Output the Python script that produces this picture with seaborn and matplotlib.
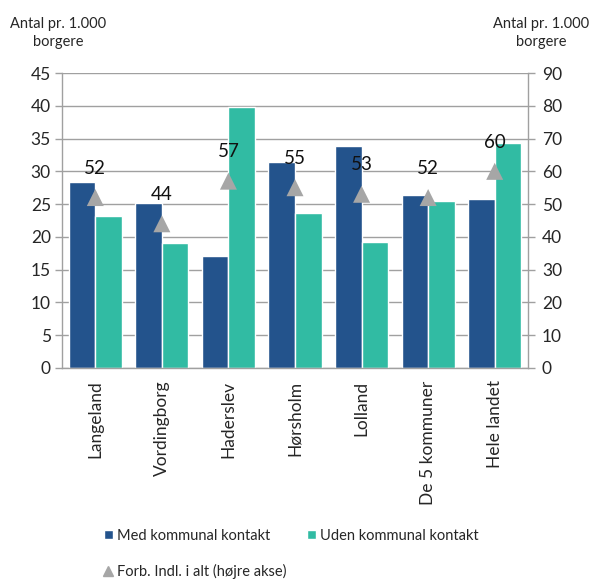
import matplotlib
matplotlib.use("Agg")
import matplotlib.pyplot as plt
from matplotlib.lines import Line2D
from matplotlib.patches import Patch
import numpy as np
import pandas as pd
import seaborn as sns

# Data
kommuner = ["Langeland", "Vordingborg", "Haderslev", "Hørsholm", "Lolland",
            "De 5 kommuner", "Hele landet"]
med_kontakt = [28.3, 25.2, 17.1, 31.4, 33.8, 26.4, 25.8]
uden_kontakt = [23.2, 19.0, 39.8, 23.7, 19.2, 25.5, 34.3]
forb_i_alt = [52, 44, 57, 55, 53, 52, 60]

serie_med = "Med kommunal kontakt"
serie_uden = "Uden kommunal kontakt"
serie_forb = "Forb. Indl. i alt (højre akse)"

venstre_ticks = [0, 5, 10, 15, 20, 25, 30, 35, 40, 45]
hoejre_ticks = [0, 10, 20, 30, 40, 50, 60, 70, 80, 90]

farve_med = "#23538c"
farve_uden = "#31bba3"
farve_forb = "#a6a6a6"
graa = "#a0a0a0"

sns.set_style("white")
plt.rcParams["font.family"] = ["Lato", "DejaVu Sans"]

df = pd.DataFrame({
    "Kommune": kommuner * 2,
    "Værdi": med_kontakt + uden_kontakt,
    "Serie": [serie_med] * len(kommuner) + [serie_uden] * len(kommuner),
})
df_forb = pd.DataFrame({"Kommune": kommuner, "Forb": forb_i_alt})

fig = plt.figure(figsize=(5.90, 5.81), dpi=100)
ax = fig.add_axes([62 / 590, 1 - 368 / 581, 466 / 590, 295 / 581])

sns.barplot(data=df, x="Kommune", y="Værdi", hue="Serie",
            palette=[farve_med, farve_uden], width=0.8, gap=0,
            saturation=1, legend=False, ax=ax, zorder=2)

ax.set_ylim(0, 45)
ax.set_xlim(-0.5, len(kommuner) - 0.5)
ax.set_yticks(venstre_ticks)
ax.yaxis.grid(True, color=graa, linewidth=1, zorder=0)
ax.set_axisbelow(True)
ax.set_xlabel("")
ax.set_ylabel("")

# Tick marks on category boundaries, labels at category centres
ax.set_xticks(np.arange(-0.5, len(kommuner), 1.0))
ax.set_xticklabels([])
ax.set_xticks(np.arange(len(kommuner)), minor=True)
ax.set_xticklabels(kommuner, minor=True, rotation=90, fontsize=12.5)
ax.tick_params(axis="x", which="major", length=5, color=graa, width=1)
ax.tick_params(axis="x", which="minor", length=0, pad=9)
ax.tick_params(axis="y", length=5, color=graa, width=1, labelsize=12.5, pad=3)

for s in ["top", "right"]:
    ax.spines[s].set_visible(False)
for s in ["left", "bottom"]:
    ax.spines[s].set_color(graa)
    ax.spines[s].set_linewidth(1)

ax2 = ax.twinx()
sns.scatterplot(data=df_forb, x="Kommune", y="Forb", marker="^", s=150,
                color=farve_forb, edgecolor="none", ax=ax2, zorder=3,
                legend=False)
ax2.set_ylim(0, 90)
ax2.set_yticks(hoejre_ticks)
ax2.set_ylabel("")
ax2.tick_params(axis="y", length=5, color=graa, width=1, labelsize=12.5, pad=5)
for s in ["top", "left", "bottom"]:
    ax2.spines[s].set_visible(False)
ax2.spines["right"].set_color(graa)
ax2.spines["right"].set_linewidth(1)

for i, v in enumerate(forb_i_alt):
    ax2.annotate(f"{v}", (i, v), xytext=(0, 15), textcoords="offset points",
                 ha="center", va="bottom", fontsize=13.5, color="#111111")

fig.text(58 / 590, 1 - 33 / 581, "Antal pr. 1.000\nborgere", ha="center",
         va="center", fontsize=10.5, linespacing=1.45)
fig.text(541 / 590, 1 - 33 / 581, "Antal pr. 1.000\nborgere", ha="center",
         va="center", fontsize=10.5, linespacing=1.45)

handles = [
    Patch(facecolor=farve_med, label=serie_med),
    Line2D([], [], marker="^", linestyle="none", color=farve_forb,
           markersize=7, label=serie_forb),
    Patch(facecolor=farve_uden, label=serie_uden),
]
fig.legend(handles=handles, ncol=2, loc="upper left",
           bbox_to_anchor=(104 / 590, 1 - 529 / 581), frameon=False,
           fontsize=10.5, handlelength=0.6, handleheight=0.6,
           handletextpad=0.3, columnspacing=1.4, labelspacing=1.45,
           borderaxespad=0, borderpad=0)

fig.savefig("out.png", dpi=100)
